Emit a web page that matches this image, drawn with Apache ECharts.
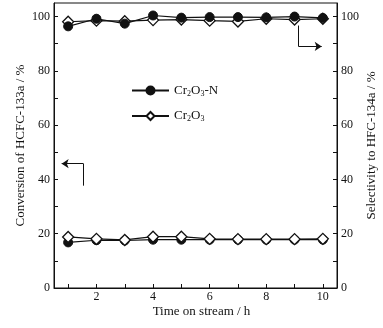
<!DOCTYPE html>
<html>
<head>
<meta charset="utf-8">
<script src="https://cdn.jsdelivr.net/npm/echarts@6/dist/echarts.min.js"></script>
<style>
  html, body { margin: 0; padding: 0; background: #fff; }
  #chart { width: 383px; height: 328px; }
</style>
</head>
<body>
<div id="chart"></div>
<script>
// time on stream (h)
const hours = [1, 2, 3, 4, 5, 6, 7, 8, 9, 10]
// selectivity to HFC-134a (right axis)
const selN = [96.4, 99.2, 97.4, 100.4, 99.6, 99.8, 99.8, 99.7, 100.0, 99.5]
const selPlain = [98.1, 98.5, 98.3, 98.7, 98.9, 98.5, 98.2, 99.2, 98.9, 99.2]
// conversion of HCFC-133a (left axis)
const convN = [16.8, 17.6, 17.5, 17.8, 17.8, 17.8, 17.8, 17.8, 17.8, 17.8]
const convPlain = [18.8, 18.1, 17.7, 18.9, 18.9, 18.1, 18.0, 18.0, 18.0, 18.1]
// axis ticks
const xTicks = [1, 2, 3, 4, 5, 6, 7, 8, 9, 10]
const xLabels = [2, 4, 6, 8, 10]
const yTicks = [0, 10, 20, 30, 40, 50, 60, 70, 80, 90, 100]
const yLabels = [0, 20, 40, 60, 80, 100]

const font = 'Liberation Serif'
const toPairs = (ys) => hours.map((h, i) => [h, ys[i]])

const chart = echarts.init(document.getElementById('chart'))

const yAxisBase = {
  type: 'value',
  min: 0,
  max: 105,
  nameLocation: 'middle',
  nameRotate: 90,
  nameMoveOverlap: false,
  nameTextStyle: { fontFamily: font, fontSize: 13, color: '#111' },
  axisLine: { show: true, lineStyle: { color: '#111', width: 1 } },
  axisTick: { show: true, inside: true, length: 4, customValues: yTicks, lineStyle: { color: '#111' } },
  axisLabel: { customValues: yLabels, margin: 4, fontFamily: font, fontSize: 12, color: '#111' },
  splitLine: { show: false }
}

const circleStyle = {
  type: 'line',
  symbol: 'circle',
  symbolSize: 9,
  itemStyle: { color: '#111', borderColor: '#111', borderWidth: 1 },
  lineStyle: { color: '#111', width: 1.2 },
  emphasis: { disabled: true }
}
const diamondStyle = {
  type: 'line',
  symbol: 'diamond',
  symbolSize: 11,
  itemStyle: { color: '#fff', borderColor: '#111', borderWidth: 1.3 },
  lineStyle: { color: '#111', width: 1.2 },
  emphasis: { disabled: true }
}
const arrowLine = {
  silent: true,
  symbol: ['none', 'arrow'],
  symbolSize: 7,
  label: { show: false },
  lineStyle: { color: '#111', width: 1, type: 'solid' },
  itemStyle: { color: '#111' }
}

const option = {
  animation: false,
  backgroundColor: '#fff',
  grid: {
    left: 54, right: 46, top: 3, bottom: 40,
    outerBoundsMode: 'none',
    show: true, borderColor: '#111', borderWidth: 1
  },
  legend: {
    data: ['Cr2O3-N', 'Cr2O3'],
    orient: 'vertical',
    left: 131,
    top: 84,
    padding: 0,
    itemWidth: 37,
    itemHeight: 10,
    itemGap: 12,
    formatter: (name) => name.replace(/(\d)/g, '{sub|$1}'),
    textStyle: {
      fontFamily: font, fontSize: 13, color: '#111',
      rich: { sub: { fontFamily: font, fontSize: 8, color: '#111', verticalAlign: 'bottom', padding: [6, 0, 0, 0] } }
    }
  },
  xAxis: [
    {
      type: 'value',
      min: 0.5,
      max: 10.5,
      name: 'Time on stream / h',
      nameLocation: 'middle',
      nameGap: 17,
      nameMoveOverlap: false,
      nameTextStyle: { fontFamily: font, fontSize: 13, color: '#111', padding: [0, 0, 0, 12] },
      axisLine: { show: true, lineStyle: { color: '#111', width: 1 } },
      axisTick: { show: true, inside: true, length: 4, customValues: xTicks, lineStyle: { color: '#111' } },
      axisLabel: { customValues: xLabels, margin: 3, fontFamily: font, fontSize: 12, color: '#111' },
      splitLine: { show: false }
    }
  ],
  yAxis: [
    Object.assign({}, yAxisBase, { position: 'left', name: 'Conversion of HCFC-133a / %', nameGap: 27 }),
    Object.assign({}, yAxisBase, { position: 'right', name: 'Selectivity to HFC-134a / %', nameGap: 28 })
  ],
  series: [
    Object.assign({}, diamondStyle, { name: 'Cr2O3', yAxisIndex: 1, data: toPairs(selPlain) }),
    Object.assign({}, circleStyle, {
      name: 'Cr2O3-N', yAxisIndex: 1, data: toPairs(selN),
      markLine: Object.assign({}, arrowLine, {
        data: [
          [{ coord: [9.14, 96.7], symbol: 'none' }, { coord: [9.14, 89], symbol: 'none' }],
          [{ coord: [9.14, 89], symbol: 'none' }, { coord: [9.96, 89], symbol: 'arrow', symbolSize: 7 }]
        ]
      })
    }),
    Object.assign({}, circleStyle, {
      name: 'Cr2O3-N', yAxisIndex: 0, data: toPairs(convN),
      markLine: Object.assign({}, arrowLine, {
        data: [
          [{ coord: [1.54, 37.7], symbol: 'none' }, { coord: [1.54, 45.8], symbol: 'none' }],
          [{ coord: [1.54, 45.8], symbol: 'none' }, { coord: [0.77, 45.8], symbol: 'arrow', symbolSize: 7 }]
        ]
      })
    }),
    Object.assign({}, diamondStyle, { name: 'Cr2O3', yAxisIndex: 0, data: toPairs(convPlain) })
  ]
}

chart.setOption(option)
</script>
</body>
</html>
